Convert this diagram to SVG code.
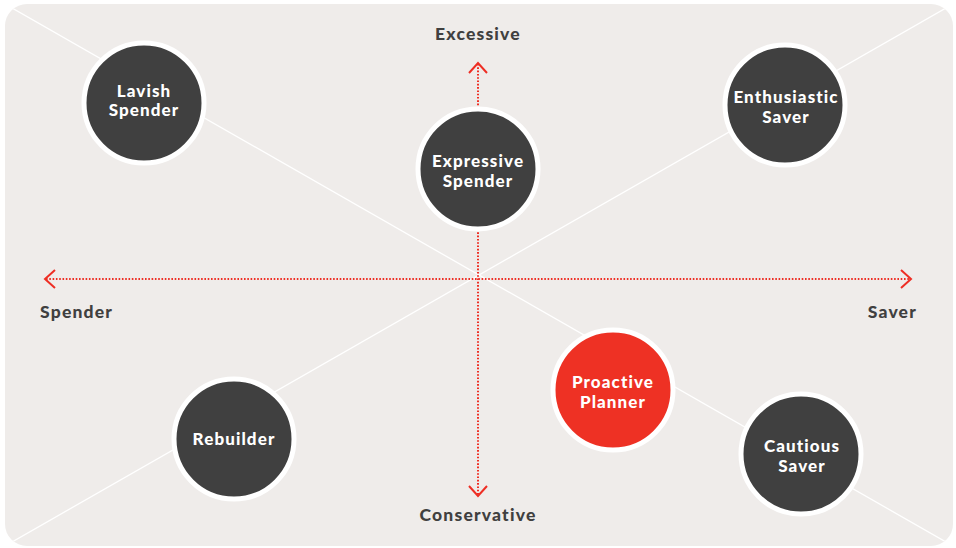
<svg xmlns="http://www.w3.org/2000/svg" width="956" height="548" viewBox="0 0 956 548">
  <style>
    .axis { fill: none; stroke: #ee2e24; stroke-width: 2; stroke-dasharray: 1.6 1.7; }
    .head { fill: none; stroke: #ee2e24; stroke-width: 2; stroke-linecap: butt; stroke-linejoin: miter; }
    .diag { stroke: #ffffff; stroke-width: 1.3; }
    .node circle { stroke: #ffffff; stroke-width: 5; }
    .dark { fill: #404040; }
    .red { fill: #ee3124; }
    .nlabel { font-family: Lato, "Open Sans", "Liberation Sans", sans-serif; font-weight: 900; font-size: 17px; fill: #ffffff; text-anchor: middle; letter-spacing: 1.1px; }
    .alabel { font-family: Lato, "Open Sans", "Liberation Sans", sans-serif; font-weight: 900; font-size: 17.5px; fill: #404040; letter-spacing: 1.2px; }
  </style>
  <defs>
    <clipPath id="panel-clip">
      <rect x="5" y="4" width="948" height="542" rx="22" ry="22"/>
    </clipPath>
  </defs>

  <rect width="956" height="548" fill="#ffffff"/>
  <rect x="5" y="4" width="948" height="542" rx="22" ry="22" fill="#efecea"/>

  <g id="connectors">
    <g clip-path="url(#panel-clip)">
      <line class="diag" x1="5" y1="4" x2="953" y2="546"/>
      <line class="diag" x1="953" y1="4" x2="5" y2="546"/>
    </g>
    <line class="axis" x1="46" y1="279" x2="910" y2="279"/>
    <polyline class="head" points="55,270 45,279 55,288"/>
    <polyline class="head" points="901,270 911,279 901,288"/>
    <line class="axis" x1="478" y1="64" x2="478" y2="495"/>
    <polyline class="head" points="469,73 478,63 487,73"/>
    <polyline class="head" points="469,486 478,496 487,486"/>
  </g>

  <g id="axis-labels">
    <text class="alabel" x="478" y="40" text-anchor="middle">Excessive</text>
    <text class="alabel" x="478" y="521" text-anchor="middle">Conservative</text>
    <text class="alabel" x="40" y="318">Spender</text>
    <text class="alabel" x="917" y="318" text-anchor="end">Saver</text>
  </g>

  <g id="lavish-spender" class="node">
    <circle class="dark" cx="144" cy="103" r="60"/>
    <text class="nlabel" x="144" y="96.5">Lavish</text>
    <text class="nlabel" x="144" y="115.5">Spender</text>
  </g>

  <g id="expressive-spender" class="node">
    <circle class="dark" cx="478" cy="169" r="60"/>
    <text class="nlabel" x="478" y="167">Expressive</text>
    <text class="nlabel" x="478" y="186.5">Spender</text>
  </g>

  <g id="enthusiastic-saver" class="node">
    <circle class="dark" cx="785" cy="105" r="60"/>
    <text class="nlabel" x="786" y="103">Enthusiastic</text>
    <text class="nlabel" x="786" y="122.5">Saver</text>
  </g>

  <g id="proactive-planner" class="node">
    <circle class="red" cx="613" cy="390" r="60"/>
    <text class="nlabel" x="613" y="388">Proactive</text>
    <text class="nlabel" x="613" y="407.5">Planner</text>
  </g>

  <g id="cautious-saver" class="node">
    <circle class="dark" cx="801" cy="454" r="60"/>
    <text class="nlabel" x="802" y="452">Cautious</text>
    <text class="nlabel" x="802" y="471.5">Saver</text>
  </g>

  <g id="rebuilder" class="node">
    <circle class="dark" cx="234" cy="439" r="60"/>
    <text class="nlabel" x="234" y="445">Rebuilder</text>
  </g>
</svg>
